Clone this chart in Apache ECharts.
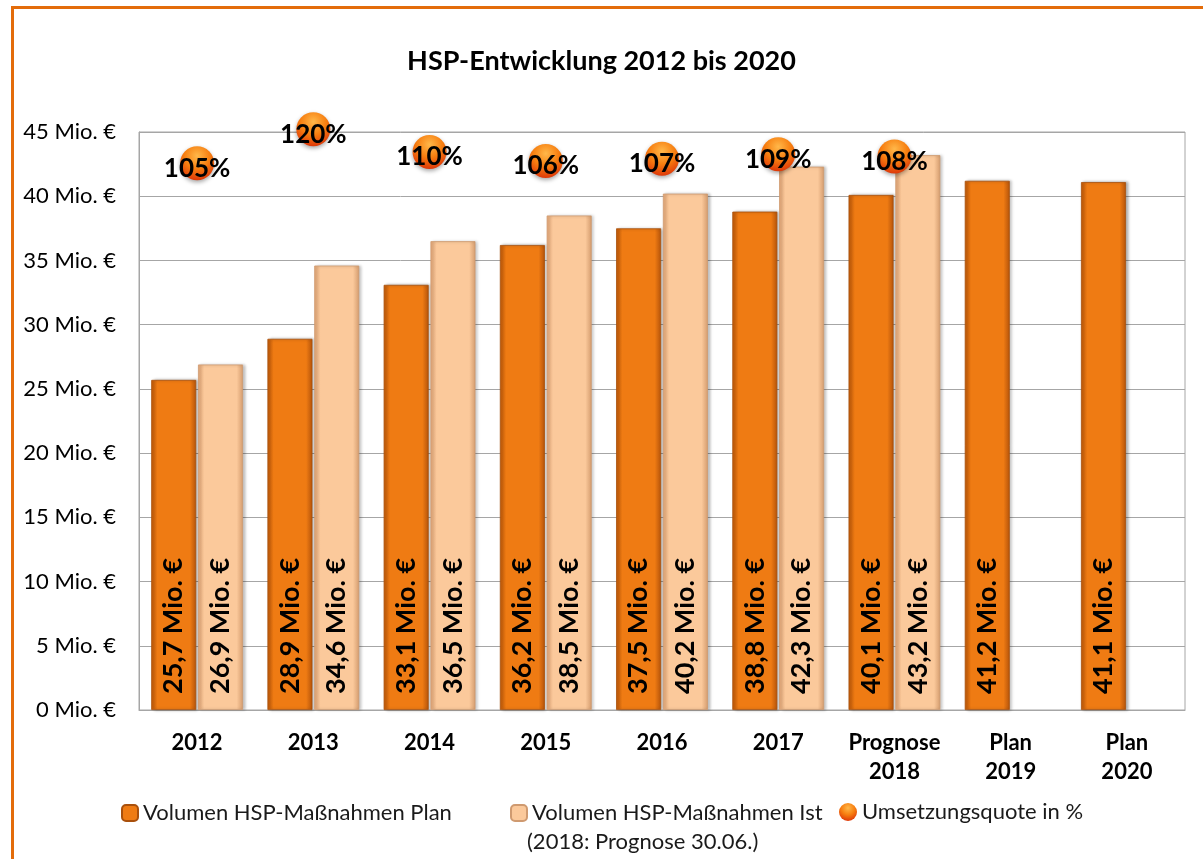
<!DOCTYPE html>
<html>
<head>
<meta charset="utf-8">
<title>HSP-Entwicklung 2012 bis 2020</title>
<script src="https://cdn.jsdelivr.net/npm/echarts@6/dist/echarts.min.js"></script>
<style>
  html, body { margin: 0; padding: 0; background: #fff; overflow: hidden; }
  #frame {
    position: absolute; left: 11px; top: 6px; width: 1300px; height: 1000px;
    border-left: 3px solid #E36C0A; border-top: 3px solid #E36C0A;
  }
  #main { position: absolute; left: 0; top: 0; width: 1203px; height: 859px; }
</style>
</head>
<body>
<div id="frame"></div>
<div id="main"></div>
<script>
// Daten
const categories = ['2012', '2013', '2014', '2015', '2016', '2017', 'Prognose\n2018', 'Plan\n2019', 'Plan\n2020']
const planValues = [25.7, 28.9, 33.1, 36.2, 37.5, 38.8, 40.1, 41.2, 41.1]
const istValues = [26.9, 34.6, 36.5, 38.5, 40.2, 42.3, 43.2, '-', '-']
const quoteValues = [105, 120, 110, 106, 107, 109, 108, '-', '-']
const yTicks = { min: 0, max: 45, interval: 5 }

const seriesNames = ['Volumen HSP-Maßnahmen Plan', 'Volumen HSP-Maßnahmen Ist', 'Umsetzungsquote in %']

const fontFamily = 'Lato, "Open Sans", sans-serif'

function mio(v) {
  return v.toFixed(1).replace('.', ',') + ' Mio. €'
}

const chart = echarts.init(document.getElementById('main'))

const barLabel = {
  show: true,
  position: 'insideBottom',
  rotate: 90,
  align: 'left',
  verticalAlign: 'middle',
  distance: 16,
  color: '#000',
  fontWeight: 'bold',
  fontSize: 27,
  fontFamily: fontFamily,
  formatter: p => mio(p.value)
}

const legendBase = {
  top: 797,
  itemWidth: 16,
  itemHeight: 16,
  textStyle: { fontSize: 22, color: '#1a1a1a', fontFamily: fontFamily }
}

const sphereColor = new echarts.graphic.RadialGradient(0.5, 0.28, 0.75, [
  { offset: 0, color: '#FFB84A' },
  { offset: 0.5, color: '#F77F10' },
  { offset: 1, color: '#DC3208' }
])

chart.setOption({
  animation: false,
  title: {
    text: 'HSP-Entwicklung 2012 bis 2020',
    left: 'center',
    top: 43,
    textStyle: { fontSize: 27, fontWeight: 'bold', color: '#000', fontFamily: fontFamily }
  },
  legend: [
    Object.assign({}, legendBase, { left: 116, data: [seriesNames[0]] }),
    Object.assign({}, legendBase, { left: 505, data: [seriesNames[1]] }),
    Object.assign({}, legendBase, {
      left: 834, top: 796, itemWidth: 18, itemHeight: 18,
      data: [{ name: seriesNames[2], icon: 'circle', itemStyle: { color: sphereColor } }]
    })
  ],
  graphic: [{
    type: 'text',
    left: 527,
    top: 831,
    style: { text: '(2018: Prognose 30.06.)', fontSize: 22, fill: '#1a1a1a', fontFamily: fontFamily }
  }],
  grid: {
    left: 139,
    right: 18,
    top: 132,
    bottom: 149,
    show: true,
    borderColor: '#A6A6A6',
    borderWidth: 1
  },
  xAxis: {
    type: 'category',
    data: categories,
    axisLine: { lineStyle: { color: '#A6A6A6' } },
    axisTick: { show: false },
    axisLabel: {
      margin: 18,
      color: '#000',
      fontWeight: 'bold',
      fontSize: 22,
      lineHeight: 29,
      fontFamily: fontFamily,
      interval: 0
    }
  },
  yAxis: [{
    type: 'value',
    min: yTicks.min,
    max: yTicks.max,
    interval: yTicks.interval,
    axisLine: { show: true, lineStyle: { color: '#A6A6A6' } },
    axisTick: { show: false },
    splitLine: { lineStyle: { color: '#A6A6A6' } },
    axisLabel: {
      margin: 23,
      color: '#000',
      fontSize: 22,
      fontFamily: fontFamily,
      formatter: '{value} Mio. €'
    }
  }, {
    // versteckte Achse fuer die Quote
    type: 'value',
    min: -136,
    max: 118.8,
    show: false,
    splitLine: { show: false }
  }],
  series: [{
    name: seriesNames[0],
    type: 'bar',
    barWidth: 45,
    barGap: '4%',
    data: planValues,
    itemStyle: {
      color: new echarts.graphic.LinearGradient(0, 0, 1, 0, [
        { offset: 0, color: '#C25A08' },
        { offset: 0.14, color: '#EF7B13' },
        { offset: 0.86, color: '#EF7B13' },
        { offset: 1, color: '#B4530A' }
      ]),
      borderColor: '#A9500C',
      borderWidth: 0.8,
      shadowBlur: 3,
      shadowOffsetX: 2,
      shadowColor: 'rgba(0,0,0,0.3)'
    },
    label: barLabel
  }, {
    name: seriesNames[1],
    type: 'bar',
    barWidth: 45,
    data: istValues,
    itemStyle: {
      color: new echarts.graphic.LinearGradient(0, 0, 1, 0, [
        { offset: 0, color: '#E3A676' },
        { offset: 0.14, color: '#FBC99B' },
        { offset: 0.86, color: '#FBC99B' },
        { offset: 1, color: '#D49C6E' }
      ]),
      borderColor: '#CF9A70',
      borderWidth: 0.8,
      shadowBlur: 3,
      shadowOffsetX: 2,
      shadowColor: 'rgba(0,0,0,0.25)'
    },
    label: barLabel
  }, {
    name: seriesNames[2],
    type: 'scatter',
    yAxisIndex: 1,
    clip: false,
    symbol: 'circle',
    symbolSize: 34,
    data: quoteValues,
    z: 5,
    itemStyle: {
      color: sphereColor,
      opacity: 1,
      shadowBlur: 4,
      shadowOffsetY: 2,
      shadowColor: 'rgba(0,0,0,0.35)'
    },
    label: {
      show: true,
      position: 'inside',
      offset: [0, 5],
      color: '#000',
      fontWeight: 'bold',
      fontSize: 26,
      fontFamily: fontFamily,
      formatter: p => p.value + '%'
    }
  }]
})
</script>
</body>
</html>
